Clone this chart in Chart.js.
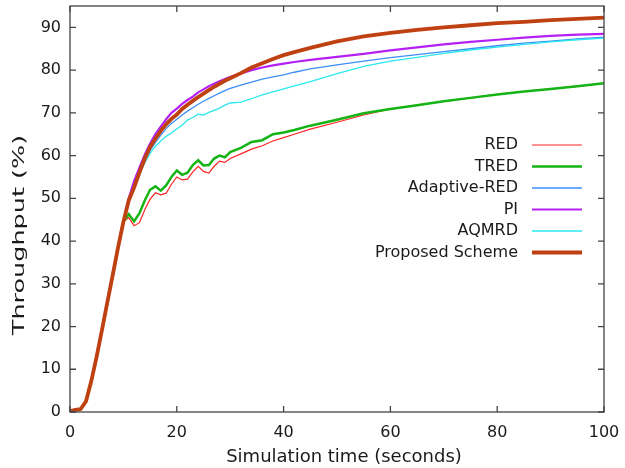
<!DOCTYPE html>
<html>
<head>
<meta charset="utf-8">
<script src="https://cdn.jsdelivr.net/npm/chart.js@4.4.1/dist/chart.umd.min.js"></script>
<style>
  html, body { margin: 0; padding: 0; background: #fff; }
  #chart { display: block; }
</style>
</head>
<body>
<canvas id="chart" width="625" height="468"></canvas>
<script>
// simulation time (s)
const time = [0, 1, 2, 3, 4, 5, 6, 7, 8, 9, 10,
  11, 12, 13, 14, 15, 16, 17, 18, 19, 20, 21, 22, 23, 24, 25, 26, 27, 28, 29, 30,
  32, 34, 36, 38, 40, 42, 45, 50, 55, 60, 65, 70, 75, 80, 85, 90, 95, 100];

// throughput (%) per scheme
const red = [0.2, 0.5, 0.7, 2.5, 7.3, 13, 19.3, 25.7, 32, 38.5, 44.5,
  45.5, 43.6, 44.3, 47.3, 49.8, 51.3, 50.8, 51.2, 53.3, 55, 54.3, 54.5, 56.2, 57.5, 56.3, 55.9, 57.5, 58.7, 58.4, 59.3,
  60.4, 61.5, 62.3, 63.4, 64.2, 65, 66.2, 67.8, 69.5, 70.9, 71.8, 72.7, 73.5, 74.3, 75, 75.6, 76.2, 76.9];
const tred = [0.2, 0.5, 0.7, 2.5, 7.3, 13, 19.3, 25.7, 32, 38.5, 44.5,
  46.3, 44.6, 46.5, 49.5, 52, 52.8, 51.8, 53, 55, 56.5, 55.5, 56, 57.8, 58.9, 57.7, 57.8, 59.3, 60, 59.6, 60.8,
  61.8, 63.2, 63.6, 65, 65.4, 66, 67, 68.4, 69.9, 70.9, 71.8, 72.7, 73.5, 74.3, 75, 75.6, 76.2, 76.9];
const adaptiveRed = [0.2, 0.5, 0.7, 2.5, 7.3, 13, 19.3, 25.7, 32, 38.5, 44.5,
  49.5, 53, 56, 58.8, 61.2, 63.1, 64.8, 66.3, 67.5, 68.5, 69.5, 70.4, 71.2, 72, 72.7, 73.4, 74, 74.6, 75.2, 75.7,
  76.5, 77.2, 77.9, 78.4, 78.9, 79.5, 80.3, 81.2, 82.1, 82.9, 83.6, 84.3, 85, 85.7, 86.3, 86.8, 87.3, 87.7];
const pi = [0.2, 0.5, 0.7, 2.5, 7.3, 13, 19.3, 25.7, 32, 38.5, 44.5,
  50, 54, 57.2, 60.2, 62.8, 65, 66.8, 68.5, 70, 71, 72.1, 73, 73.8, 74.8, 75.5, 76.2, 76.8, 77.4, 77.9, 78.4,
  79.2, 80, 80.6, 81.1, 81.5, 81.9, 82.4, 83.1, 83.8, 84.6, 85.3, 86, 86.6, 87.1, 87.6, 88, 88.3, 88.5];
const aqmrd = [0.2, 0.5, 0.7, 2.5, 7.3, 13, 19.3, 25.7, 32, 38.5, 44.5,
  49.2, 52.5, 55.5, 58.3, 60.5, 62.2, 63.4, 64.5, 65.3, 66.2, 67.1, 68.3, 68.9, 69.7, 69.5, 70.1, 70.6, 71.1, 71.8, 72.3,
  72.5, 73.3, 74.2, 74.9, 75.6, 76.3, 77.3, 79.2, 80.9, 82.1, 83, 83.9, 84.7, 85.4, 86, 86.6, 87.1, 87.5];
const proposed = [0.2, 0.5, 0.7, 2.5, 7.3, 13, 19.3, 25.7, 32, 38.5, 44.5,
  49.5, 52.5, 56, 59.3, 62, 64, 65.8, 67.3, 68.6, 69.6, 70.9, 71.9, 72.8, 73.7, 74.5, 75.3, 76.1, 76.8, 77.5, 78.1,
  79.3, 80.6, 81.6, 82.6, 83.5, 84.2, 85.2, 86.7, 87.9, 88.7, 89.4, 90, 90.5, 91, 91.3, 91.7, 92, 92.3];

const labels = ['RED', 'TRED', 'Adaptive-RED', 'PI', 'AQMRD', 'Proposed Scheme'];
const series = [red, tred, adaptiveRed, pi, aqmrd, proposed];
const colors = ['#ff2424', '#14b414', '#3d8ef5', '#b520f5', '#2ae8ee', '#bf4010'];
const widths = [1.2, 2.5, 1.3, 2.2, 1.3, 3.8];

const FONT = 'DejaVu Sans';

const datasets = series.map((vals, i) => ({
  label: labels[i],
  data: time.map((t, j) => ({ x: t, y: vals[j] })),
  borderColor: colors[i],
  backgroundColor: colors[i],
  borderWidth: widths[i],
  pointRadius: 0,
  tension: 0,
  fill: false,
  order: series.length - i // later series on top, like gnuplot
}));

// drop the label overflow padding so the plot box lands where the reference has it
function noPad(scale) {
  scale.paddingTop = 0;
  scale.paddingBottom = 0;
  scale.paddingLeft = 0;
  scale.paddingRight = 0;
}

// frame, inward ticks on all sides, gnuplot style legend and axis titles
const decorations = {
  id: 'decorations',
  afterDatasetsDraw(chart) {
    const { ctx, chartArea: a, scales } = chart;
    const tick = 6;
    ctx.save();
    ctx.strokeStyle = '#444';
    ctx.lineWidth = 1.3;
    ctx.strokeRect(a.left, a.top, a.right - a.left, a.bottom - a.top);

    ctx.beginPath();
    scales.x.ticks.forEach(t => {
      const px = scales.x.getPixelForValue(t.value);
      ctx.moveTo(px, a.bottom); ctx.lineTo(px, a.bottom - tick);
      ctx.moveTo(px, a.top); ctx.lineTo(px, a.top + tick);
    });
    scales.y.ticks.forEach(t => {
      const py = scales.y.getPixelForValue(t.value);
      ctx.moveTo(a.left, py); ctx.lineTo(a.left + tick, py);
      ctx.moveTo(a.right, py); ctx.lineTo(a.right - tick, py);
    });
    ctx.stroke();

    // legend
    ctx.font = '16px "' + FONT + '"';
    ctx.textAlign = 'right';
    ctx.textBaseline = 'middle';
    chart.data.datasets.forEach((ds, i) => {
      const y = 145 + i * 21.5;
      ctx.fillStyle = '#1a1a1a';
      ctx.fillText(ds.label, 518, y);
      ctx.strokeStyle = ds.borderColor;
      ctx.lineWidth = ds.borderWidth;
      ctx.beginPath();
      ctx.moveTo(532, y);
      ctx.lineTo(582, y);
      ctx.stroke();
    });

    // axis titles
    ctx.fillStyle = '#1a1a1a';
    ctx.textAlign = 'center';
    ctx.font = '18px "' + FONT + '"';
    ctx.fillText('Simulation time (seconds)', 344, 457);

    ctx.translate(20, 235);
    ctx.rotate(-Math.PI / 2);
    ctx.scale(1.7, 1);
    ctx.font = '15px "' + FONT + '"';
    ctx.fillText('Throughput (%)', 0, 0);
    ctx.restore();
  }
};

new Chart(document.getElementById('chart').getContext('2d'), {
  type: 'line',
  data: { datasets },
  options: {
    responsive: false,
    animation: false,
    layout: { autoPadding: false, padding: { left: 0, top: 6, right: 21, bottom: 0 } },
    plugins: { legend: { display: false }, tooltip: { enabled: false } },
    scales: {
      x: {
        type: 'linear',
        min: 0,
        max: 100,
        grid: { display: false, drawTicks: false },
        border: { display: false },
        ticks: {
          stepSize: 20,
          padding: 11,
          maxRotation: 0,
          color: '#1a1a1a',
          font: { family: FONT, size: 16 }
        },
        afterFit(scale) { scale.height = 56; noPad(scale); }
      },
      y: {
        min: 0,
        max: 95,
        grid: { display: false, drawTicks: false },
        border: { display: false },
        ticks: {
          stepSize: 10,
          includeBounds: false,
          padding: 9,
          color: '#1a1a1a',
          font: { family: FONT, size: 16 }
        },
        afterFit(scale) { scale.width = 70; noPad(scale); }
      }
    }
  },
  plugins: [decorations]
});
</script>
</body>
</html>
